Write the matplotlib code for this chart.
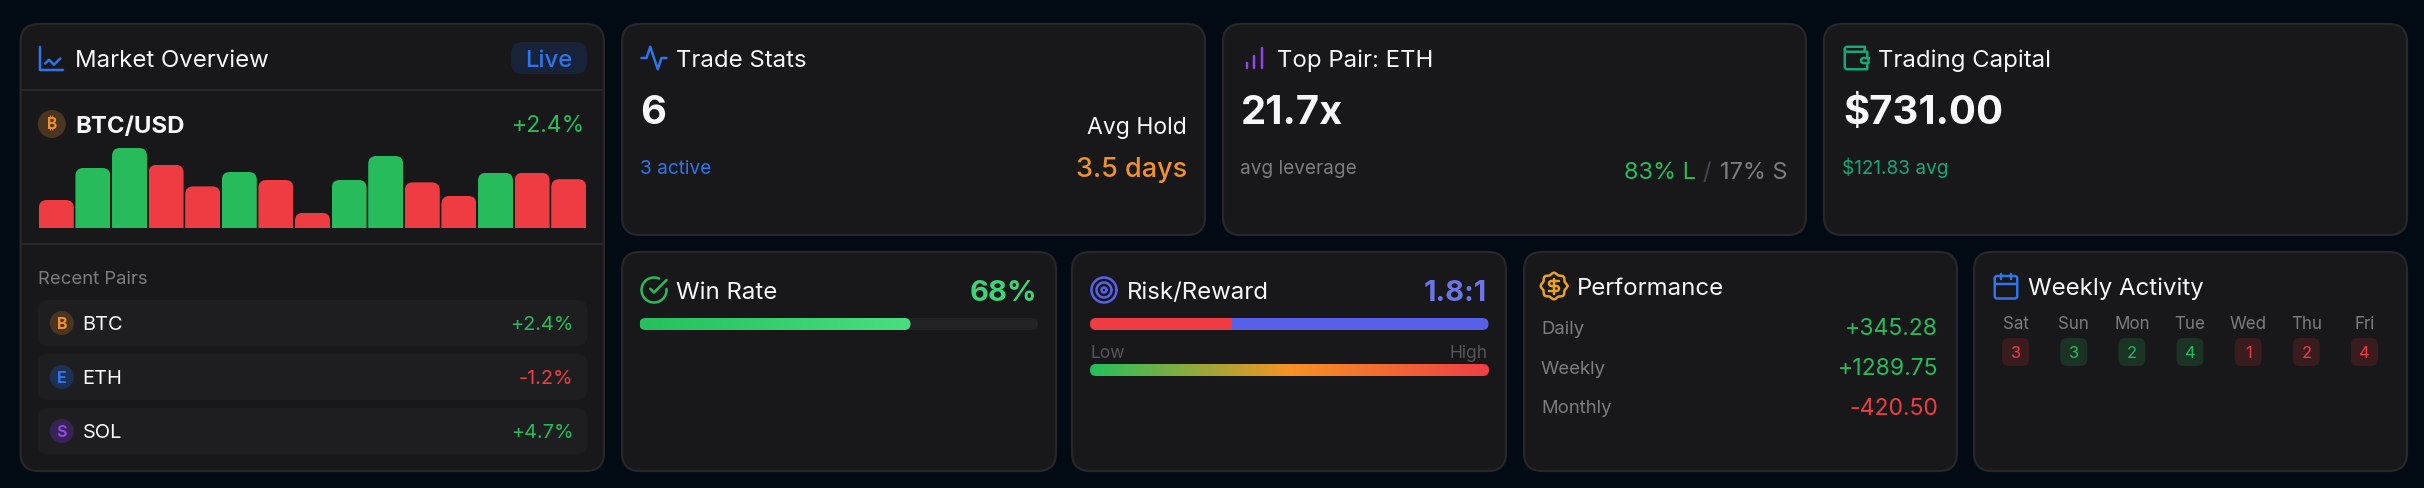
import numpy as np
import matplotlib
matplotlib.use("Agg")
import matplotlib.pyplot as plt
from matplotlib.patches import FancyBboxPatch, Circle
from matplotlib.colors import LinearSegmentedColormap

# ---------- data ----------
BAR_VALUES = [35, 75, 100, 79, 52, 70, 60, 19, 60, 90, 57, 40, 69, 69, 61]
BAR_UP = [0, 1, 1, 0, 0, 1, 0, 0, 1, 1, 0, 0, 1, 0, 0]
PAIRS = ["BTC", "ETH", "SOL"]
PAIR_LETTERS = ["B", "E", "S"]
PAIR_CHANGES = ["+2.4%", "-1.2%", "+4.7%"]
PERF_LABELS = ["Daily", "Weekly", "Monthly"]
PERF_VALUES = ["+345.28", "+1289.75", "-420.50"]
DAYS = ["Sat", "Sun", "Mon", "Tue", "Wed", "Thu", "Fri"]
DAY_COUNTS = [3, 3, 2, 4, 1, 2, 4]
DAY_UP = [0, 1, 1, 1, 0, 0, 0]
WIN_RATE = 68
RISK = 1.0
REWARD = 1.8

# ---------- colours ----------
PAGE = "#020a14"
CARD = "#18181a"
EDGE = "#27272a"
ROW = "#1e1e20"
WHITE = "#f7f7f8"
GRAY = "#7c7c82"
DIM = "#55555a"
BLUE = "#2f74ea"
GREEN = "#27bb5c"
RED = "#ef3c43"
ORANGE = "#f0922b"
PURPLE = "#9146e8"
TEAL = "#16a874"
INDIGO = "#5661e8"
AMBER = "#e8a21e"

W, H = 2424, 488
plt.rcParams["font.family"] = ["Inter", "DejaVu Sans"]
fig = plt.figure(figsize=(W / 100, H / 100), dpi=100, facecolor=PAGE)
ax = fig.add_axes([0, 0, 1, 1])
ax.set_xlim(0, W)
ax.set_ylim(H, 0)
ax.axis("off")


def box(x0, y0, x1, y1, r, fc, ec="none", lw=0, z=1, add=True):
    p = FancyBboxPatch((x0 + r, y0 + r), x1 - x0 - 2 * r, y1 - y0 - 2 * r,
                       boxstyle=f"round,pad={r},rounding_size={r}",
                       fc=fc, ec=ec, lw=lw * 0.72, zorder=z,
                       transform=ax.transData)
    if add:
        ax.add_patch(p)
    return p


def T(x, yc, s, px, color=WHITE, weight="normal", ha="left", z=5):
    return ax.text(x, yc + 0.364 * px, s, fontsize=px * 0.72, color=color,
                   fontweight=weight, ha=ha, va="baseline", zorder=z)


def arc(cx, cy, r, a0, a1, n=24):
    a = np.radians(np.linspace(a0, a1, n))
    return list(zip(cx + r * np.cos(a), cy + r * np.sin(a)))


def icon(paths, cx, cy, color, s=1.25, lw=2.5):
    for p in paths:
        p = np.array(p, float)
        ax.plot(cx + (p[:, 0] - 12) * s, cy + (p[:, 1] - 12) * s, color=color,
                lw=lw * 0.72, solid_capstyle="round", solid_joinstyle="round",
                zorder=6)


def to_px(a, x, y):
    return ax.transData.inverted().transform(a.transData.transform((x, y)))


def sub_axes(x0, y0, x1, y1, xlim, ylim):
    a = fig.add_axes([x0 / W, 1 - y1 / H, (x1 - x0) / W, (y1 - y0) / H])
    a.set_xlim(*xlim)
    a.set_ylim(*ylim)
    a.axis("off")
    return a


# ---------- cards ----------
CARDS = [(20.5, 24, 604, 471), (622, 24, 1205, 235), (1223, 24, 1806, 235),
         (1824, 24, 2407, 235), (622, 252, 1056, 471), (1072, 252, 1506, 471),
         (1524, 252, 1957, 471), (1974, 252, 2407, 471)]
for c in CARDS:
    box(*c, 18, CARD, EDGE, 2.2)

# ---------- Market overview ----------
for y in (90, 244):
    ax.plot([21.5, 603], [y, y], color=EDGE, lw=1.5, zorder=2)
icon([[(3, 3), (3, 21), (21, 21)], [(7, 16), (10, 13), (14, 17), (19, 12)]],
     51.5, 58.5, BLUE)
T(75, 58, "Market Overview", 24)
box(511, 42, 587, 74, 12, "#18233a", z=2)
T(549, 58, "Live", 24, BLUE, "medium", "center")
ax.add_patch(Circle((51.8, 124), 14, fc="#4a3520", ec="none", zorder=2))
T(51.8, 124, "\u20bf", 15.5, ORANGE, "bold", "center")
T(75, 124, "BTC/USD", 24, WHITE, "bold")
T(585, 124, "+2.4%", 23, GREEN, ha="right")

bars_ax = sub_axes(38, 148, 587, 228, (-0.5, len(BAR_VALUES) - 0.5), (0, 100))
rects = bars_ax.bar(range(len(BAR_VALUES)), BAR_VALUES, width=0.955,
                    color=[GREEN if u else RED for u in BAR_UP], linewidth=0)
for rect in rects:
    (x0, y0) = to_px(bars_ax, rect.get_x(), rect.get_height())
    (x1, y1) = to_px(bars_ax, rect.get_x() + rect.get_width(), 0)
    rect.set_clip_path(box(x0, y0, x1, y1 + 20, 8, "none", add=False))

T(38, 277, "Recent Pairs", 18.5, GRAY)
ROW_Y = [(300, 346), (354, 400), (408, 454)]
COIN_FG = [ORANGE, BLUE, PURPLE]
COIN_BG = ["#4a3520", "#1d3153", "#352454"]
for i, (y0, y1) in enumerate(ROW_Y):
    yc = (y0 + y1) / 2
    box(38, y0, 587, y1, 9, ROW, z=2)
    ax.add_patch(Circle((61.8, yc), 12, fc=COIN_BG[i], ec="none", zorder=3))
    T(61.8, yc, PAIR_LETTERS[i], 16, COIN_FG[i], "bold", "center")
    T(82.6, yc, PAIRS[i], 20, WHITE)
    T(573.5, yc, PAIR_CHANGES[i], 20, RED if PAIR_CHANGES[i][0] == "-" else GREEN, ha="right")

# ---------- Trade stats ----------
icon([[(22, 12), (18, 12), (15, 21), (9, 3), (6, 12), (2, 12)]], 654, 58, BLUE)
T(676, 58, "Trade Stats", 24)
T(640, 109, "6", 40, WHITE, "bold")
T(640, 167.5, "3 active", 19, BLUE)
T(1187, 126, "Avg Hold", 23, WHITE, ha="right")
T(1187, 167, "3.5 days", 27, ORANGE, "medium", "right")

# ---------- Top pair ----------
icon([[(12, 20), (12, 10)], [(18, 20), (18, 4)], [(6, 20), (6, 16)]], 1254, 58, PURPLE)
T(1277, 58, "Top Pair: ETH", 24)
T(1241, 109, "21.7x", 40, WHITE, "bold")
T(1240.5, 167, "avg leverage", 19, GRAY)
T(1788, 170, "17% S", 23.5, GRAY, ha="right")
T(1711, 170, "/", 23.5, "#48484c", ha="right")
T(1695.5, 170, "83% L", 23.5, GREEN, ha="right")

# ---------- Trading capital ----------
icon([[(21, 12), (21, 7)] + [(5, 7)] + arc(5, 5, 2, 90, 270) + [(19, 3), (19, 7)],
      [(3, 5), (3, 19)] + arc(5, 19, 2, 180, 90) + [(21, 21), (21, 16)],
      [(22, 12), (18, 12)] + arc(18, 14, 2, 270, 90) + [(22, 16), (22, 12)]],
     1856, 58, TEAL)
T(1878, 58, "Trading Capital", 24)
T(1843, 109, "$731.00", 40, WHITE, "bold")
T(1842, 167, "$121.83 avg", 19, TEAL)

# ---------- Win rate ----------
icon([[(22, 11.08), (22, 12)] + arc(12, 12, 10, 0, 294, 48),
      [(22, 4), (12, 14), (9, 11)]], 654, 290, GREEN)
T(676, 290, "Win Rate", 24)
T(1037, 290, "68%", 29, "#3fd27a", "bold", "right")
box(639.5, 318, 1038, 330, 6, "#232325", z=2)
win_ax = sub_axes(639.5, 318, 1038, 330, (0, 100), (0, 1))
win_cm = LinearSegmentedColormap.from_list("win", ["#25c05c", "#4ade80"])
im = win_ax.imshow(np.linspace(0, 1, 256)[None, :], cmap=win_cm, aspect="auto",
                   extent=(0, WIN_RATE, 0, 1))
win_ax.set_xlim(0, 100)
win_ax.set_ylim(0, 1)
xe = to_px(win_ax, WIN_RATE, 0)[0]
im.set_clip_path(box(639.5, 318, xe, 330, 6, "none", add=False))

# ---------- Risk / reward ----------
icon([arc(12, 12, 10, 0, 360, 48), arc(12, 12, 6, 0, 360, 36), arc(12, 12, 2, 0, 360, 18)],
     1104, 290, INDIGO)
T(1127, 290, "Risk/Reward", 24)
T(1487, 290, "1.8:1", 29, "#6b75e8", "bold", "right")
rr_ax = sub_axes(1090, 318, 1488.5, 330, (0, RISK + REWARD), (0, 1))
b1 = rr_ax.barh(0.5, RISK, height=1, left=0, color=RED, linewidth=0)[0]
b2 = rr_ax.barh(0.5, REWARD, height=1, left=RISK, color=INDIGO, linewidth=0)[0]
clip = box(1090, 318, 1488.5, 330, 6, "none", add=False)
b1.set_clip_path(clip)
b2.set_clip_path(clip)
T(1090, 352, "Low", 17.5, DIM)
T(1488, 352, "High", 17.5, DIM, ha="right")
gr_ax = sub_axes(1090, 364, 1489, 376, (0, 1), (0, 1))
gr_cm = LinearSegmentedColormap.from_list("risk", ["#25c05c", "#f59322", "#ef3e45"])
g = gr_ax.imshow(np.linspace(0, 1, 512)[None, :], cmap=gr_cm, aspect="auto", extent=(0, 1, 0, 1))
g.set_clip_path(box(1090, 364, 1489, 376, 6, "none", add=False))

# ---------- Performance ----------
th = np.linspace(0, 360, 200)
badge = list(zip(12 + (9.9 + 0.75 * np.cos(np.radians(8 * th))) * np.cos(np.radians(th)),
                 12 + (9.9 + 0.75 * np.cos(np.radians(8 * th))) * np.sin(np.radians(th))))
dollar = [(16, 8), (10, 8)] + arc(10, 10, 2, 270, 90, 12) + [(14, 12)] + arc(14, 14, 2, -90, 90, 12) + [(8, 16)]
icon([badge, dollar, [(12, 18), (12, 6)]], 1554, 286, AMBER)
T(1577, 286, "Performance", 24)
PERF_Y = [327, 367, 406.5]
for lab, val, y in zip(PERF_LABELS, PERF_VALUES, PERF_Y):
    T(1541, y, lab, 18.5, GRAY)
    T(1938, y, val, 23, RED if val[0] == "-" else GREEN, ha="right")

# ---------- Weekly activity ----------
icon([[(16, 2), (16, 6)], [(8, 2), (8, 6)], [(3, 10), (21, 10)],
      arc(5, 6, 2, 180, 270, 8) + arc(19, 6, 2, 270, 360, 8) + arc(19, 20, 2, 0, 90, 8) +
      arc(5, 20, 2, 90, 180, 8) + [(3, 6)]], 2006, 286, BLUE)
T(2028, 286, "Weekly Activity", 24)
DAY_X0, DAY_STEP = 2015.6, 58.15
for i, (d, n, up) in enumerate(zip(DAYS, DAY_COUNTS, DAY_UP)):
    x = DAY_X0 + i * DAY_STEP
    T(x, 322.5, d, 17, GRAY, ha="center")
    box(x - 13.5, 338, x + 13.5, 366, 7, "#1a3324" if up else "#3a1c1f", z=2)
    T(x, 352, str(n), 16.5, GREEN if up else RED, ha="center")

fig.savefig("out.png", dpi=100, facecolor=PAGE)
